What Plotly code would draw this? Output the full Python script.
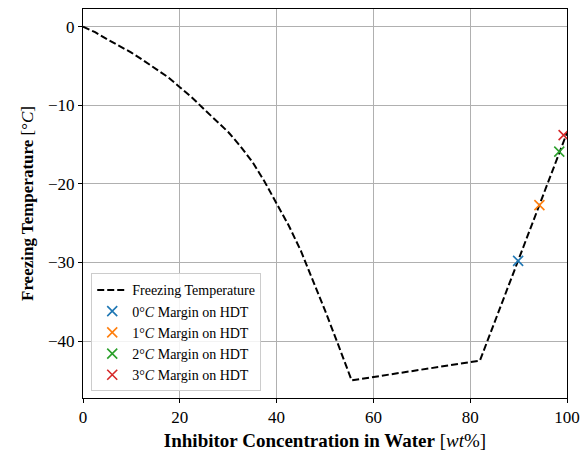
import plotly.graph_objects as go

conc = [0, 2.5, 5, 7.5, 10, 12.5, 15, 17.5, 20, 22.5, 25, 27.5, 30, 32.5, 35, 37.5,
        40, 42.5, 45, 47.5, 50, 52.5, 55.5, 82, 100]
freeze = [0, -0.7, -1.6, -2.4, -3.3, -4.3, -5.3, -6.4, -7.7, -9.0, -10.5, -11.9, -13.4,
          -15.2, -17.2, -19.7, -22.5, -25.3, -28.5, -32.2, -36.1, -40.1, -45, -42.5, -13.5]

margin_labels = ["0°<i>C</i> Margin on HDT", "1°<i>C</i> Margin on HDT",
                 "2°<i>C</i> Margin on HDT", "3°<i>C</i> Margin on HDT"]
margin_x = [89.9, 94.3, 98.4, 99.3]
margin_y = [-29.8, -22.7, -15.9, -13.8]
colors = ["#1f77b4", "#ff7f0e", "#2ca02c", "#d62728"]

FONT = "Liberation Serif"

fig = go.Figure()
fig.add_trace(go.Scatter(x=conc, y=freeze, mode="lines", name="Freezing Temperature",
                         line=dict(color="black", width=2, dash="7px,3px")))
for lbl, x, y, c in zip(margin_labels, margin_x, margin_y, colors):
    fig.add_trace(go.Scatter(x=[x], y=[y], mode="markers", name=lbl,
                             marker=dict(symbol="x-thin", size=10, color=c,
                                         line=dict(color=c, width=1.6))))

axis_common = dict(showline=True, linecolor="black", linewidth=1, mirror=True,
                   ticks="outside", ticklen=4, tickwidth=1, tickcolor="black",
                   showgrid=True, gridcolor="#b0b0b0", gridwidth=1, zeroline=False,
                   automargin=False,
                   tickfont=dict(family=FONT, size=17, color="black"))

fig.update_layout(
    width=587, height=452,
    margin=dict(l=83, r=20, t=9, b=54),
    plot_bgcolor="white", paper_bgcolor="white",
    font=dict(family=FONT, size=15, color="black"),
    xaxis=dict(range=[0, 100], tickvals=[0, 20, 40, 60, 80, 100],
               title=dict(text="<b>Inhibitor Concentration in Water</b> [<i>wt</i>%]",
                          font=dict(family=FONT, size=19), standoff=7),
               **axis_common),
    yaxis=dict(range=[-47.25, 2.25], tickvals=[0, -10, -20, -30, -40],
               title=dict(text="<b>Freezing Temperature</b> [°<i>C</i>]",
                          font=dict(family=FONT, size=17), standoff=10),
               **axis_common),
    legend=dict(x=0.017, y=0.017, xanchor="left", yanchor="bottom",
                bgcolor="rgba(255,255,255,0.85)", bordercolor="#cccccc", borderwidth=1,
                font=dict(family=FONT, size=14), tracegroupgap=0, itemwidth=30),
    showlegend=True,
)

fig.write_html("out.html", config={"displayModeBar": False},
               post_script="document.body.style.margin='0';document.body.style.padding='0';")
